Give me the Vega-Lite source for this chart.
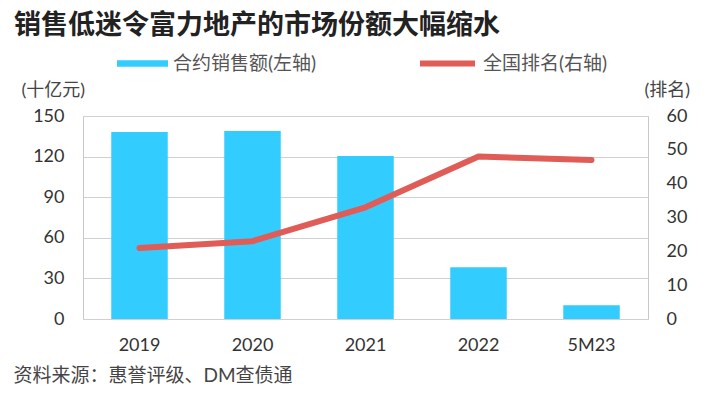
{
  "$schema": "https://vega.github.io/schema/vega-lite/v6.json",
  "width": 565,
  "height": 203,
  "autosize": {"type": "none"},
  "padding": {"top": 116, "left": 83, "right": 79, "bottom": 79},
  "background": "white",
  "title": {
    "text": "销售低迷令富力地产的市场份额大幅缩水",
    "anchor": "start",
    "frame": "group",
    "dx": -69,
    "offset": -7,
    "fontSize": 27,
    "fontWeight": "bold",
    "font": "Noto Sans CJK SC",
    "color": "#222222"
  },
  "config": {
    "font": "Lato, Noto Sans CJK SC",
    "view": {"stroke": "#c8c8c8", "strokeWidth": 1},
    "axis": {
      "labelFont": "Lato, Noto Sans CJK SC",
      "titleFont": "Lato, Noto Sans CJK SC",
      "labelFontSize": 18,
      "labelColor": "#333333",
      "titleFontSize": 18,
      "titleFontWeight": "normal",
      "titleColor": "#444444",
      "ticks": false,
      "domain": false
    },
    "legend": {
      "labelFont": "Lato, Noto Sans CJK SC",
      "labelFontSize": 19,
      "labelColor": "#555555",
      "padding": 0,
      "offset": 0
    }
  },
  "data": {
    "values": [
      {"period": "2019", "sales": 138.2, "rank": 21},
      {"period": "2020", "sales": 138.9, "rank": 23},
      {"period": "2021", "sales": 120.4, "rank": 33},
      {"period": "2022", "sales": 38.2, "rank": 48},
      {"period": "5M23", "sales": 10.2, "rank": 47}
    ]
  },
  "encoding": {
    "x": {
      "field": "period",
      "type": "nominal",
      "sort": null,
      "scale": {"paddingInner": 0.5, "paddingOuter": 0.25},
      "axis": {
        "title": "资料来源：惠誉评级、DM查债通",
        "labelAngle": 0,
        "labelPadding": 17,
        "grid": false,
        "titleAnchor": "start",
        "titleAlign": "left",
        "titleX": -70,
        "titleY": 56,
        "titleBaseline": "middle",
        "titleFontSize": 19,
        "titleColor": "#444444"
      }
    }
  },
  "layer": [
    {
      "mark": {"type": "bar", "color": "#33CCFF"},
      "encoding": {
        "y": {
          "field": "sales",
          "type": "quantitative",
          "scale": {"domain": [0, 150]},
          "axis": {
            "values": [0, 30, 60, 90, 120, 150],
            "title": "(十亿元)",
            "titleAngle": 0,
            "titleAlign": "left",
            "titleAnchor": "start",
            "titleX": -62,
            "titleY": -26,
            "titleBaseline": "middle",
            "labelPadding": 19,
            "grid": true,
            "gridColor": "#d0d0d0"
          }
        },
        "color": {
          "datum": "合约销售额(左轴)",
          "scale": {"range": ["#33CCFF"]},
          "legend": {
            "title": null,
            "orient": "none",
            "legendX": 34,
            "legendY": -78,
            "symbolType": "M-1,-0.13H1V0.13H-1Z",
            "symbolSize": 2601,
            "symbolStrokeWidth": 0,
            "symbolOpacity": 1,
            "labelOffset": 5
          }
        }
      }
    },
    {
      "mark": {"type": "line", "strokeWidth": 6, "strokeCap": "round", "strokeJoin": "round"},
      "encoding": {
        "y": {
          "field": "rank",
          "type": "quantitative",
          "scale": {"domain": [0, 60]},
          "axis": {
            "orient": "right",
            "values": [0, 10, 20, 30, 40, 50, 60],
            "title": "(排名)",
            "titleAngle": 0,
            "titleAlign": "left",
            "titleAnchor": "start",
            "titleX": -4,
            "titleY": -26,
            "titleBaseline": "middle",
            "labelPadding": 18,
            "grid": false
          }
        },
        "color": {
          "datum": "全国排名(右轴)",
          "scale": {"range": ["#E05C57"]},
          "legend": {
            "title": null,
            "orient": "none",
            "legendX": 334,
            "legendY": -83,
            "symbolType": "stroke",
            "symbolSize": 3025,
            "symbolStrokeWidth": 6,
            "labelOffset": 5
          }
        }
      }
    }
  ],
  "resolve": {
    "scale": {"y": "independent", "color": "independent"},
    "legend": {"color": "independent"}
  }
}
